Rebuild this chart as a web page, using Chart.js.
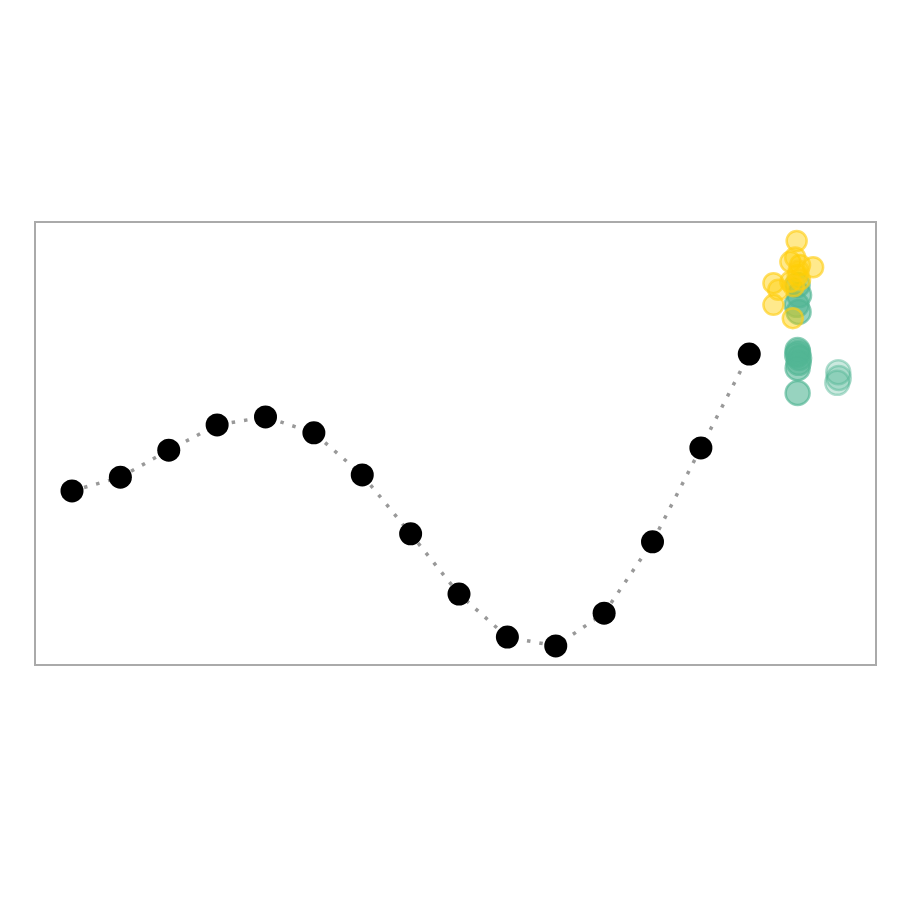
<!DOCTYPE html>
<html>
<head>
<meta charset="utf-8">
<script src="https://cdn.jsdelivr.net/npm/chart.js@4/dist/chart.umd.min.js"></script>
<style>
  html, body { margin: 0; padding: 0; background: #fff; }
  #wrap { width: 900px; height: 900px; }
</style>
</head>
<body>
<div id="wrap"><canvas id="chart" width="900" height="900"></canvas></div>
<script>
// series: black trend points (x = step index)
const steps = [0, 1, 2, 3, 4, 5, 6, 7, 8, 9, 10, 11, 12, 13, 14];
const trendY = [39.3, 42.4, 48.5, 54.2, 56.0, 52.4, 42.9, 29.6, 16.0, 6.3, 4.3, 11.7, 27.8, 49.0, 70.2];

// clusters at the end
const yellowX = [14.98, 15.32, 14.5, 14.5, 14.9, 14.85, 15.05, 15.0, 14.85, 14.6, 14.95, 15.05, 15.02, 14.92];
const yellowY = [95.7, 89.8, 86.2, 81.3, 78.3, 91.0, 90.3, 88.0, 86.5, 84.7, 92.0, 87.0, 89.0, 85.5];
const greenX = [15.0, 15.03, 14.98, 15.02, 15.0, 15.01, 14.99, 15.03, 15.0, 15.02, 15.0];
const greenY = [85.8, 83.5, 81.3, 79.7, 71.1, 70.5, 70.0, 69.3, 67.0, 68.2, 61.4];
const paleX = [15.84, 15.82, 15.85];
const paleY = [66.1, 63.7, 64.8];

const pts = (xs, ys) => xs.map((x, i) => ({ x, y: ys[i] }));

// frame around the plot area
const framePlugin = {
  id: 'frame',
  beforeDatasetsDraw(chart) {
    const { ctx, chartArea: a } = chart;
    ctx.save();
    ctx.strokeStyle = '#aaaaaa';
    ctx.lineWidth = 2;
    ctx.strokeRect(a.left, a.top, a.right - a.left, a.bottom - a.top);
    ctx.restore();
  }
};

new Chart(document.getElementById('chart'), {
  type: 'scatter',
  data: {
    datasets: [
      {
        label: 'yellow',
        data: pts(yellowX, yellowY),
        backgroundColor: 'rgba(255, 206, 0, 0.45)',
        borderColor: 'rgba(255, 206, 20, 0.65)',
        borderWidth: 2.5,
        pointRadius: 10,
        order: 0
      },
      {
        label: 'green',
        data: pts(greenX, greenY),
        backgroundColor: 'rgba(82, 182, 148, 0.6)',
        borderColor: 'rgba(82, 182, 148, 0.65)',
        borderWidth: 2.5,
        pointRadius: 12,
        order: 1
      },
      {
        label: 'pale',
        data: pts(paleX, paleY),
        backgroundColor: 'rgba(82, 182, 148, 0.3)',
        borderColor: 'rgba(82, 182, 148, 0.45)',
        borderWidth: 2.5,
        pointRadius: 12,
        order: 2
      },
      {
        label: 'trend',
        type: 'line',
        data: pts(steps, trendY),
        borderColor: '#999999',
        borderWidth: 3.5,
        borderDash: [3.5, 9],
        borderCapStyle: 'butt',
        tension: 0,
        fill: false,
        pointRadius: 11.5,
        pointBackgroundColor: '#000',
        pointBorderWidth: 0,
        order: 3
      }
    ]
  },
  options: {
    responsive: false,
    animation: false,
    layout: { padding: { left: 35, right: 24, top: 222, bottom: 235 } },
    plugins: { legend: { display: false }, tooltip: { enabled: false } },
    scales: {
      x: { type: 'linear', min: -0.765, max: 16.62, display: false },
      y: { type: 'linear', min: 0, max: 100, display: false }
    }
  },
  plugins: [framePlugin]
});
</script>
</body>
</html>
